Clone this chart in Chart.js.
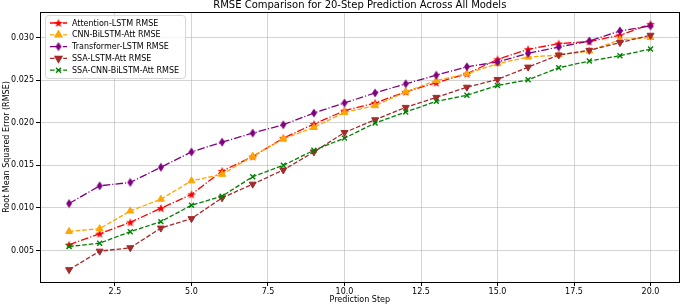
<!DOCTYPE html>
<html>
<head>
<meta charset="utf-8">
<script src="https://cdn.jsdelivr.net/npm/chart.js@4.4.1/dist/chart.umd.min.js"></script>
<style>
  html, body { margin: 0; padding: 0; background: #fff; }
  #wrap { width: 685px; height: 307px; }
</style>
</head>
<body>
<div id="wrap"><canvas id="rmseChart" width="685" height="307"></canvas></div>
<script>
  'use strict';

  // prediction steps and RMSE per model
  const steps = [1, 2, 3, 4, 5, 6, 7, 8, 9, 10, 11, 12, 13, 14, 15, 16, 17, 18, 19, 20];
  const attentionLstm = [0.00567, 0.00697, 0.00830, 0.00996, 0.01158, 0.01433, 0.01602, 0.01819, 0.01984, 0.02141,
    0.02232, 0.02362, 0.02469, 0.02575, 0.02744, 0.02862, 0.02929, 0.02953, 0.03027, 0.03157];
  const cnnBilstmAtt = [0.00724, 0.00756, 0.00964, 0.01102, 0.01318, 0.01394, 0.01606, 0.01811, 0.01944, 0.02121,
    0.02200, 0.02362, 0.02496, 0.02575, 0.02693, 0.02771, 0.02795, 0.02842, 0.02975, 0.03000];
  const transformerLstm = [0.01051, 0.01259, 0.01299, 0.01477, 0.01657, 0.01772, 0.01878, 0.01976, 0.02114, 0.02232,
    0.02350, 0.02457, 0.02558, 0.02657, 0.02712, 0.02815, 0.02889, 0.02960, 0.03078, 0.03137];
  const ssaLstmAtt = [0.00275, 0.00492, 0.00532, 0.00763, 0.00874, 0.01118, 0.01279, 0.01445, 0.01657, 0.01885,
    0.02035, 0.02180, 0.02298, 0.02417, 0.02508, 0.02653, 0.02795, 0.02850, 0.02941, 0.03027];
  const ssaCnnBilstmAtt = [0.00547, 0.00586, 0.00721, 0.00839, 0.01031, 0.01138, 0.01366, 0.01500, 0.01677, 0.01819,
    0.01996, 0.02126, 0.02251, 0.02322, 0.02437, 0.02504, 0.02646, 0.02724, 0.02787, 0.02865];

  const seriesNames = ['Attention-LSTM RMSE', 'CNN-BiLSTM-Att RMSE', 'Transformer-LSTM RMSE', 'SSA-LSTM-Att RMSE', 'SSA-CNN-BiLSTM-Att RMSE'];

  const xTickValues = [2.5, 5, 7.5, 10, 12.5, 15, 17.5, 20];
  const xTickLabels = ['2.5', '5.0', '7.5', '10.0', '12.5', '15.0', '17.5', '20.0'];
  const yTickValues = [0.005, 0.010, 0.015, 0.020, 0.025, 0.030];
  const yTickLabels = ['0.005', '0.010', '0.015', '0.020', '0.025', '0.030'];

  const chartTitle = 'RMSE Comparison for 20-Step Prediction Across All Models';
  const FONT = 'DejaVu Sans';

  Chart.defaults.font.family = FONT;
  Chart.defaults.color = '#000';

  // matplotlib-like marker shapes (size first: resizing resets the context)
  function makeMarker(kind, color) {
    const c = document.createElement('canvas');
    if (kind === 'star') { c.width = 10; c.height = 10; }
    else { c.width = 8; c.height = 10; }
    const g = c.getContext('2d');
    g.fillStyle = color;
    g.beginPath();
    if (kind === 'star') {
      for (let i = 0; i < 10; i++) {
        const r = i % 2 === 0 ? 4.6 : 1.9;
        const a = -Math.PI / 2 + i * Math.PI / 5;
        const px = 5 + r * Math.cos(a), py = 5.4 + r * Math.sin(a);
        i === 0 ? g.moveTo(px, py) : g.lineTo(px, py);
      }
    } else {
      g.moveTo(4, 0.5);
      g.lineTo(7, 5);
      g.lineTo(4, 9.5);
      g.lineTo(1, 5);
    }
    g.closePath();
    g.fill();
    return c;
  }

  const dashed = [4.6, 2];
  const dashDot = [7.6, 2, 1.2, 2];

  const styles = [
    { color: '#ff0000', dash: dashDot, point: makeMarker('star', '#ff0000'), radius: 4, rot: 0 },
    { color: '#ffa500', dash: dashed, point: 'triangle', radius: 4, rot: 0 },
    { color: '#800080', dash: dashDot, point: makeMarker('thinDiamond', '#800080'), radius: 4, rot: 0 },
    { color: '#a52a2a', dash: dashed, point: 'triangle', radius: 4, rot: 180 },
    { color: '#008000', dash: dashed, point: 'crossRot', radius: 3.5, rot: 0 }
  ];

  const seriesValues = [attentionLstm, cnnBilstmAtt, transformerLstm, ssaLstmAtt, ssaCnnBilstmAtt];

  const datasets = seriesValues.map((vals, i) => ({
    label: seriesNames[i],
    data: steps.map((s, k) => ({ x: s, y: vals[k] })),
    borderColor: styles[i].color,
    backgroundColor: styles[i].color,
    borderWidth: 1.3,
    borderDash: styles[i].dash,
    pointStyle: styles[i].point,
    pointRadius: styles[i].radius,
    pointRotation: styles[i].rot,
    pointBorderWidth: i === 4 ? 1.4 : 1,
    pointBorderColor: styles[i].color,
    pointBackgroundColor: styles[i].color,
    tension: 0,
    fill: false,
    order: seriesValues.length - i
  }));

  // frame, title and inset legend in matplotlib style
  const mplDecor = {
    id: 'mplDecor',
    afterDraw(chart) {
      const ctx = chart.ctx;
      const a = chart.chartArea;
      ctx.save();

      ctx.strokeStyle = '#000';
      ctx.lineWidth = 1;
      ctx.setLineDash([]);
      ctx.strokeRect(Math.round(a.left) + 0.5, Math.round(a.top) + 0.5,
        Math.round(a.right - a.left) - 1, Math.round(a.bottom - a.top));

      ctx.fillStyle = '#000';
      ctx.font = '10px "' + FONT + '"';
      ctx.textAlign = 'center';
      ctx.textBaseline = 'middle';
      ctx.fillText(chartTitle, (a.left + a.right) / 2, 5);

      // legend
      const bx = a.left + 5, by = a.top + 3, bw = 140, bh = 63;
      ctx.beginPath();
      if (ctx.roundRect) ctx.roundRect(bx + 0.5, by + 0.5, bw, bh, 3);
      else ctx.rect(bx + 0.5, by + 0.5, bw, bh);
      ctx.fillStyle = 'rgba(255,255,255,0.8)';
      ctx.fill();
      ctx.strokeStyle = '#d6d6d6';
      ctx.stroke();

      ctx.font = '8px "' + FONT + '"';
      ctx.textAlign = 'left';
      chart.data.datasets.forEach((ds, i) => {
        const cy = by + 8 + i * 11.8;
        ctx.strokeStyle = ds.borderColor;
        ctx.lineWidth = ds.borderWidth;
        ctx.setLineDash(ds.borderDash);
        ctx.beginPath();
        ctx.moveTo(bx + 5, cy);
        ctx.lineTo(bx + 22, cy);
        ctx.stroke();
        ctx.setLineDash([]);
        ctx.fillStyle = ds.borderColor;
        Chart.helpers.drawPoint(ctx, {
          pointStyle: ds.pointStyle,
          radius: ds.pointRadius,
          rotation: ds.pointRotation,
          borderWidth: ds.pointBorderWidth
        }, bx + 13.5, cy);
        ctx.fillStyle = '#000';
        ctx.fillText(ds.label, bx + 27, cy + 0.5);
      });
      ctx.restore();
    },
    beforeDatasetsDraw(chart) {
      const ctx = chart.ctx;
      const a = chart.chartArea;
      ctx.save();
      ctx.beginPath();
      ctx.rect(a.left, a.top, a.right - a.left, a.bottom - a.top);
      ctx.clip();
    },
    afterDatasetsDraw(chart) {
      chart.ctx.restore();
    }
  };

  new Chart(document.getElementById('rmseChart').getContext('2d'), {
    type: 'line',
    data: { datasets: datasets },
    options: {
      responsive: false,
      animation: false,
      devicePixelRatio: 1,
      layout: { padding: { top: 12, right: 2, left: 0, bottom: 0 } },
      plugins: {
        legend: { display: false },
        title: { display: false },
        tooltip: { enabled: false }
      },
      scales: {
        x: {
          type: 'linear',
          min: 0.05,
          max: 20.95,
          afterBuildTicks: scale => { scale.ticks = xTickValues.map(v => ({ value: v })); },
          afterFit: scale => { scale.height = 25; },
          ticks: {
            autoSkip: false,
            maxRotation: 0,
            padding: 1,
            font: { size: 8 },
            callback: (v, i) => xTickLabels[i]
          },
          grid: { color: 'rgba(176,176,176,0.55)', lineWidth: 1, tickLength: 4, tickColor: '#000' },
          border: { display: false },
          title: { display: true, text: 'Prediction Step', font: { size: 8 }, padding: { top: 0, bottom: 2 } }
        },
        y: {
          min: 0.0013,
          max: 0.0330,
          afterBuildTicks: scale => { scale.ticks = yTickValues.map(v => ({ value: v })); },
          afterFit: scale => { scale.width = 40; },
          ticks: {
            autoSkip: false,
            padding: 2,
            font: { size: 8 },
            callback: (v, i) => yTickLabels[i]
          },
          grid: { color: 'rgba(176,176,176,0.55)', lineWidth: 1, tickLength: 4, tickColor: '#000' },
          border: { display: false },
          title: { display: true, text: 'Root Mean Squared Error (RMSE)', font: { size: 8 }, padding: { top: 2, bottom: 0 } }
        }
      }
    },
    plugins: [mplDecor]
  });
</script>
</body>
</html>
